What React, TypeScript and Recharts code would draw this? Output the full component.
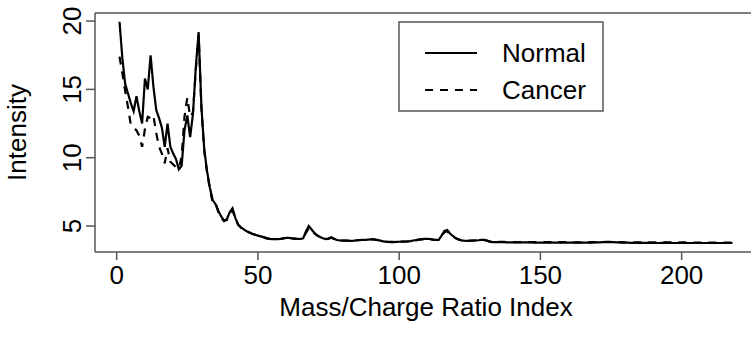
// Intensity profile of normal vs cancer spectra along the mass/charge index.
import { LineChart, Line, XAxis, YAxis, ReferenceLine } from 'recharts'

const FONT = '"Liberation Sans", Arial, Helvetica, sans-serif'
const FRAME = '#555555'

const X_TICKS = [0, 50, 100, 150, 200]
const Y_TICKS = [5, 10, 15, 20]
const X_DOMAIN: [number, number] = [-7.68, 226.68]
const Y_DOMAIN: [number, number] = [3.1, 20.59]

const SERIES_NAMES = ['Normal', 'Cancer']

// mass/charge ratio index 1..218
const INDEX = Array.from({ length: 218 }, (_, i) => i + 1)

const NORMAL = [
  19.95, 17.3, 15.4, 14.7, 14.0, 13.4, 14.5, 13.4, 12.5, 15.8,
  15.0, 17.5, 15.2, 13.5, 12.9, 12.2, 10.8, 12.5, 10.8, 10.3,
  9.9, 9.15, 9.4, 12.0, 13.1, 11.5, 13.2, 16.6, 19.2, 13.7,
  10.6, 9.0, 7.8, 6.9, 6.6, 6.1, 5.7, 5.4, 5.5, 6.0,
  6.3, 5.6, 5.1, 4.9, 4.75, 4.62, 4.52, 4.42, 4.36, 4.3,
  4.24, 4.18, 4.1, 4.06, 4.04, 4.04, 4.04, 4.05, 4.1, 4.13,
  4.13, 4.1, 4.08, 4.05, 4.05, 4.1, 4.6, 5.0, 4.75, 4.5,
  4.32, 4.2, 4.1, 4.04, 4.08, 4.18, 4.06, 3.98, 3.95, 3.93,
  3.93, 3.92, 3.92, 3.93, 3.95, 3.97, 3.98, 3.99, 4.01, 4.03,
  4.02, 3.98, 3.95, 3.9, 3.86, 3.84, 3.83, 3.83, 3.84, 3.85,
  3.86, 3.86, 3.87, 3.9, 3.94, 3.97, 4.0, 4.04, 4.06, 4.07,
  4.04, 4.0, 3.98, 3.98, 4.3, 4.65, 4.71, 4.45, 4.27, 4.12,
  4.02, 3.95, 3.93, 3.92, 3.92, 3.93, 3.94, 3.96, 3.99, 3.99,
  3.93, 3.86, 3.83, 3.83, 3.82, 3.82, 3.82, 3.81, 3.81, 3.81,
  3.8, 3.8, 3.81, 3.81, 3.8, 3.8, 3.8, 3.79, 3.79, 3.79,
  3.79, 3.79, 3.78, 3.78, 3.78, 3.79, 3.79, 3.78, 3.78, 3.78,
  3.78, 3.78, 3.78, 3.78, 3.78, 3.79, 3.79, 3.79, 3.8, 3.8,
  3.81, 3.82, 3.83, 3.83, 3.83, 3.82, 3.81, 3.8, 3.79, 3.78,
  3.78, 3.77, 3.77, 3.77, 3.77, 3.77, 3.77, 3.77, 3.76, 3.76,
  3.76, 3.76, 3.77, 3.77, 3.77, 3.77, 3.76, 3.76, 3.76, 3.76,
  3.76, 3.76, 3.76, 3.76, 3.76, 3.76, 3.76, 3.76, 3.76, 3.76,
  3.76, 3.76, 3.76, 3.76, 3.76, 3.76, 3.76, 3.76,
]

const CANCER = [
  17.4, 16.2, 14.9, 13.7, 12.4, 12.2, 12.0, 11.6, 10.8, 12.1,
  13.0, 12.9, 13.1, 11.8, 10.8, 10.3, 9.6, 10.7, 9.7, 9.5,
  9.3, 9.2, 10.1, 13.0, 14.4, 13.0, 13.3, 16.4, 19.0, 13.6,
  10.5, 8.9, 7.7, 6.7, 6.7, 6.0, 5.6, 5.35, 5.45, 5.9,
  6.15, 5.55, 5.1, 4.88, 4.74, 4.62, 4.52, 4.43, 4.37, 4.31,
  4.25, 4.19, 4.12, 4.08, 4.06, 4.05, 4.05, 4.06, 4.1, 4.12,
  4.12, 4.1, 4.08, 4.06, 4.06, 4.1, 4.5, 4.85, 4.68, 4.45,
  4.3, 4.19, 4.1, 4.05, 4.08, 4.15, 4.06, 3.99, 3.96, 3.94,
  3.94, 3.93, 3.93, 3.94, 3.96, 3.98, 3.99, 4.0, 4.02, 4.03,
  4.02, 3.99, 3.96, 3.91, 3.87, 3.85, 3.84, 3.84, 3.85, 3.86,
  3.87, 3.87, 3.88, 3.91, 3.94, 3.97, 4.0, 4.03, 4.05, 4.06,
  4.04, 4.0, 3.99, 3.99, 4.25, 4.55, 4.62, 4.4, 4.24, 4.1,
  4.02, 3.96, 3.94, 3.93, 3.93, 3.94, 3.95, 3.97, 3.99, 3.99,
  3.94, 3.88, 3.85, 3.85, 3.84, 3.84, 3.84, 3.83, 3.83, 3.83,
  3.83, 3.83, 3.83, 3.83, 3.83, 3.83, 3.83, 3.82, 3.82, 3.82,
  3.82, 3.82, 3.82, 3.82, 3.82, 3.82, 3.82, 3.82, 3.82, 3.81,
  3.81, 3.81, 3.81, 3.81, 3.81, 3.82, 3.82, 3.82, 3.82, 3.82,
  3.83, 3.83, 3.84, 3.84, 3.84, 3.83, 3.83, 3.82, 3.82, 3.81,
  3.81, 3.8, 3.8, 3.8, 3.8, 3.8, 3.8, 3.8, 3.8, 3.8,
  3.8, 3.8, 3.8, 3.8, 3.8, 3.8, 3.8, 3.8, 3.8, 3.8,
  3.8, 3.8, 3.8, 3.79, 3.79, 3.79, 3.79, 3.79, 3.79, 3.79,
  3.79, 3.79, 3.79, 3.79, 3.79, 3.79, 3.79, 3.79,
]

const rows = INDEX.map((x, i) => ({ x, normal: NORMAL[i], cancer: CANCER[i] }))

function XTick(props: any) {
  const { x, y, payload } = props
  return (
    <text x={x} y={y} dy="0.71em" textAnchor="middle" fontSize={26} fontFamily={FONT} fill="#000">
      {payload.value}
    </text>
  )
}

function YTick(props: any) {
  const { x, y, payload } = props
  // rotated label, baseline towards the plot like R's default las=0
  return (
    <text
      x={x}
      y={y}
      transform={`rotate(-90, ${x}, ${y})`}
      textAnchor="middle"
      fontSize={26}
      fontFamily={FONT}
      fill="#000"
    >
      {payload.value}
    </text>
  )
}

function YTitle(props: any) {
  const vb = props.viewBox
  const cx = vb.x + 26
  const cy = vb.y + vb.height / 2
  return (
    <text x={cx} y={cy} transform={`rotate(-90, ${cx}, ${cy})`} textAnchor="middle" fontSize={26} fontFamily={FONT} fill="#000">
      Intensity
    </text>
  )
}

function XTitle(props: any) {
  const vb = props.viewBox
  return (
    <text x={vb.x + vb.width / 2} y={vb.y + 64} textAnchor="middle" fontSize={26} fontFamily={FONT} fill="#000">
      Mass/Charge Ratio Index
    </text>
  )
}

function LegendBox() {
  return (
    <svg width={210} height={94} style={{ position: 'absolute', left: 398, top: 21 }}>
      <rect x={1} y={1} width={204} height={89} fill="#fff" stroke={FRAME} strokeWidth={1.5} />
      <line x1={27} x2={79} y1={32} y2={32} stroke="#000" strokeWidth={2.2} />
      <line x1={27} x2={79} y1={69} y2={69} stroke="#000" strokeWidth={2.2} strokeDasharray="8 7" />
      <text x={104} y={32} dy="0.36em" fontSize={26} fontFamily={FONT} fill="#000">
        {SERIES_NAMES[0]}
      </text>
      <text x={104} y={69} dy="0.36em" fontSize={26} fontFamily={FONT} fill="#000">
        {SERIES_NAMES[1]}
      </text>
    </svg>
  )
}

export default function App() {
  return (
    <div
      style={{
        position: 'fixed',
        left: 0,
        top: 0,
        width: 751,
        height: 340,
        overflow: 'hidden',
        background: '#fff',
      }}
    >
      <LineChart width={760} height={340} data={rows} margin={{ top: 13, right: 3, bottom: 0, left: 0 }}>
        <XAxis
          dataKey="x"
          type="number"
          domain={X_DOMAIN}
          ticks={X_TICKS}
          allowDataOverflow
          height={88}
          tickSize={8}
          tickMargin={6}
          tick={<XTick />}
          axisLine={{ stroke: FRAME, strokeWidth: 1.5 }}
          tickLine={{ stroke: FRAME, strokeWidth: 1.5 }}
          label={<XTitle />}
        />
        <YAxis
          type="number"
          domain={Y_DOMAIN}
          ticks={Y_TICKS}
          allowDataOverflow
          width={95}
          tickSize={9}
          tickMargin={5}
          tick={<YTick />}
          axisLine={{ stroke: FRAME, strokeWidth: 1.5 }}
          tickLine={{ stroke: FRAME, strokeWidth: 1.5 }}
          label={<YTitle />}
        />
        <ReferenceLine y={Y_DOMAIN[1]} stroke={FRAME} strokeWidth={1.5} />
        <Line
          dataKey="normal"
          name={SERIES_NAMES[0]}
          type="linear"
          stroke="#000"
          strokeWidth={2.2}
          dot={false}
          isAnimationActive={false}
        />
        <Line
          dataKey="cancer"
          name={SERIES_NAMES[1]}
          type="linear"
          stroke="#000"
          strokeWidth={2.2}
          strokeDasharray="8 7"
          dot={false}
          isAnimationActive={false}
        />
      </LineChart>
      <LegendBox />
    </div>
  )
}
